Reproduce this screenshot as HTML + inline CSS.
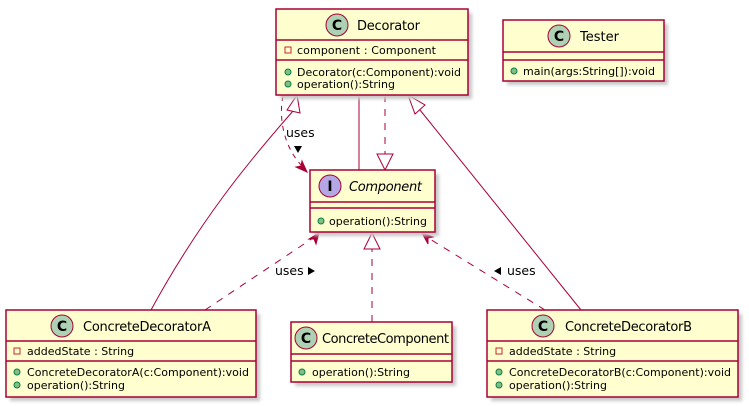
<!DOCTYPE html>
<html><head><style>
html,body{margin:0;padding:0;background:#fff;width:749px;height:406px;overflow:hidden}
text{font-family:"DejaVu Sans","Liberation Sans",sans-serif;fill:#000}
.n{font-size:13px}.m{font-size:11px}
.box{fill:#FEFECE;stroke:#A80036;stroke-width:1.5}
.sh{fill:#c8c8c8;filter:url(#b)}
.ln{stroke:#A80036;stroke-width:1.5}
.e{fill:none;stroke:#A80036;stroke-width:1}
.d{stroke-dasharray:7,7}
.ah{fill:#A80036;stroke:#A80036;stroke-width:1}
.pub{fill:#84BE84;stroke:#038048;stroke-width:1}
.pri{fill:none;stroke:#C82930;stroke-width:1}
.ic{stroke:#A80036;stroke-width:1}
</style></head><body>
<svg width="749" height="406" xmlns="http://www.w3.org/2000/svg">
<defs><filter id="b" x="-10%" y="-10%" width="130%" height="130%"><feGaussianBlur stdDeviation="1.5"/></filter></defs>

<!-- edges -->
<path class="e" d="M151,310 C200,220 250,160 293,111"/>
<polygon points="297,95 287,110 300,113" fill="#fff" stroke="#A80036"/>
<path class="e" d="M283,96 C278,120 285,150 304,168" stroke-dasharray="5,5"/>
<polygon class="ah" points="307,172 296,167 301,166 302,161"/>
<text x="286" y="137" style="font-size:12.5px">uses</text>
<polygon points="294,146 302,146 298,153" fill="#000"/>
<line class="e" x1="359" y1="95" x2="359" y2="170"/>
<line class="e d" x1="385" y1="95" x2="385" y2="154"/>
<polygon points="377,154 393,154 385,170" fill="#fff" stroke="#A80036"/>
<line class="e" x1="420" y1="110" x2="581" y2="310"/>
<polygon points="408,95 415,114 425,105" fill="#fff" stroke="#A80036"/>
<line class="e d" x1="205" y1="310" x2="316" y2="236"/>
<polygon class="ah" points="319,233 316,244 314,239 309,239"/>
<text x="275" y="275" style="font-size:12.5px">uses</text>
<polygon points="308,267 308,275 315,271" fill="#000"/>
<line class="e d" x1="372" y1="322" x2="372" y2="249"/>
<polygon points="364,249 380,249 372,233" fill="#fff" stroke="#A80036"/>
<line class="e d" x1="545" y1="310" x2="425" y2="236"/>
<polygon class="ah" points="422,233 433,237 428,238 428,244"/>
<text x="507" y="275" style="font-size:12.5px">uses</text>
<polygon points="501,267 501,275 494,271" fill="#000"/>

<!-- Decorator -->
<rect class="sh" x="280" y="13" width="192" height="86"/>
<rect class="box" x="276" y="9" width="192" height="86"/>
<line class="ln" x1="276" y1="40" x2="468" y2="40"/><line class="ln" x1="276" y1="60" x2="468" y2="60"/>
<circle class="ic" cx="337" cy="25" r="11" fill="#ADD1B2"/><text x="337" y="30" text-anchor="middle" style="font-size:14px;font-weight:bold">C</text>
<text class="n" x="357" y="30" textLength="63">Decorator</text>
<rect class="pri" x="285" y="47" width="6" height="6"/><text class="m" x="297" y="54" textLength="139">component : Component</text>
<circle class="pub" cx="288" cy="72" r="3"/><text class="m" x="297" y="76">Decorator(c:Component):void</text>
<circle class="pub" cx="288" cy="84" r="3"/><text class="m" x="297" y="88">operation():String</text>

<!-- Tester -->
<rect class="sh" x="507" y="24" width="161" height="61"/>
<rect class="box" x="503" y="20" width="161" height="61"/>
<line class="ln" x1="503" y1="52" x2="664" y2="52"/><line class="ln" x1="503" y1="60" x2="664" y2="60"/>
<circle class="ic" cx="559" cy="36" r="11" fill="#ADD1B2"/><text x="559" y="41" text-anchor="middle" style="font-size:14px;font-weight:bold">C</text>
<text class="n" x="580" y="41">Tester</text>
<circle class="pub" cx="514" cy="71" r="3"/><text class="m" x="523" y="75">main(args:String[]):void</text>

<!-- Component -->
<rect class="sh" x="314" y="174" width="125" height="62"/>
<rect class="box" x="310" y="170" width="125" height="62"/>
<line class="ln" x1="310" y1="202" x2="435" y2="202"/><line class="ln" x1="310" y1="208" x2="435" y2="208"/>
<circle class="ic" cx="330" cy="186" r="11" fill="#B4A7E5"/><text x="330" y="191" text-anchor="middle" style="font-size:14px;font-weight:bold">I</text>
<text class="n" x="349" y="191" font-style="italic" textLength="73">Component</text>
<circle class="pub" cx="321" cy="221" r="3"/><text class="m" x="329" y="225">operation():String</text>

<!-- CDA -->
<rect class="sh" x="10" y="314" width="250" height="87"/>
<rect class="box" x="6" y="310" width="250" height="87"/>
<line class="ln" x1="6" y1="341" x2="256" y2="341"/><line class="ln" x1="6" y1="361" x2="256" y2="361"/>
<circle class="ic" cx="62" cy="326" r="11" fill="#ADD1B2"/><text x="62" y="331" text-anchor="middle" style="font-size:14px;font-weight:bold">C</text>
<text class="n" x="83" y="331" textLength="128">ConcreteDecoratorA</text>
<rect class="pri" x="14" y="348" width="6" height="6"/><text class="m" x="27" y="355">addedState : String</text>
<circle class="pub" cx="17" cy="372" r="3"/><text class="m" x="27" y="376" textLength="222">ConcreteDecoratorA(c:Component):void</text>
<circle class="pub" cx="17" cy="385" r="3"/><text class="m" x="27" y="389">operation():String</text>

<!-- CC -->
<rect class="sh" x="295" y="326" width="161" height="60"/>
<rect class="box" x="291" y="322" width="161" height="60"/>
<line class="ln" x1="291" y1="354" x2="452" y2="354"/><line class="ln" x1="291" y1="361" x2="452" y2="361"/>
<circle class="ic" cx="306" cy="338" r="11" fill="#ADD1B2"/><text x="306" y="343" text-anchor="middle" style="font-size:14px;font-weight:bold">C</text>
<text class="n" x="322" y="343" textLength="127">ConcreteComponent</text>
<circle class="pub" cx="302" cy="372" r="3"/><text class="m" x="312" y="376">operation():String</text>

<!-- CDB -->
<rect class="sh" x="491" y="314" width="251" height="87"/>
<rect class="box" x="487" y="310" width="251" height="87"/>
<line class="ln" x1="487" y1="341" x2="738" y2="341"/><line class="ln" x1="487" y1="361" x2="738" y2="361"/>
<circle class="ic" cx="543" cy="326" r="11" fill="#ADD1B2"/><text x="543" y="331" text-anchor="middle" style="font-size:14px;font-weight:bold">C</text>
<text class="n" x="565" y="331" textLength="127">ConcreteDecoratorB</text>
<rect class="pri" x="496" y="348" width="6" height="6"/><text class="m" x="509" y="355">addedState : String</text>
<circle class="pub" cx="499" cy="372" r="3"/><text class="m" x="509" y="376" textLength="222">ConcreteDecoratorB(c:Component):void</text>
<circle class="pub" cx="499" cy="385" r="3"/><text class="m" x="509" y="389">operation():String</text>
</svg>
</body></html>
